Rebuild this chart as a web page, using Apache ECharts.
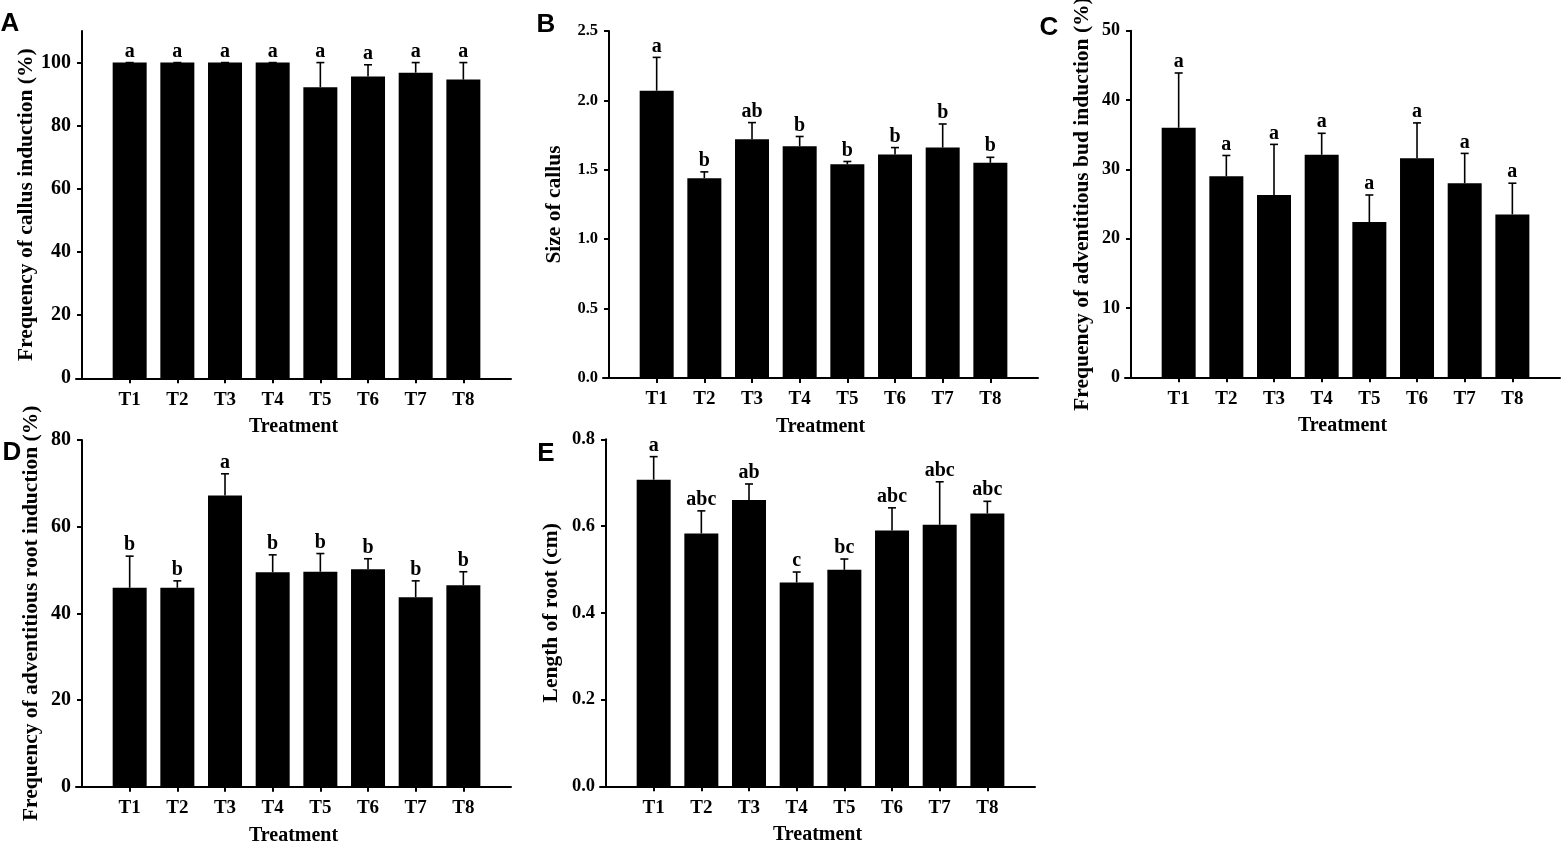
<!DOCTYPE html>
<html>
<head>
<meta charset="utf-8">
<script src="https://cdn.jsdelivr.net/npm/echarts@6/dist/echarts.min.js"></script>
<style>
html,body{margin:0;padding:0;background:#fff;}
#chart{width:1563px;height:841px;}
</style>
</head>
<body>
<div id="chart"></div>
<script>
// ---- data ----
var categories = ['T1','T2','T3','T4','T5','T6','T7','T8'];

var callusFreq = [100, 100, 100, 100, 92.2, 95.6, 96.8, 94.6];
var callusFreqErr = [0, 0, 0, 0, 7.8, 3.7, 3.2, 5.4];
var callusFreqLetters = ['a','a','a','a','a','a','a','a'];

var callusSize = [2.07, 1.44, 1.72, 1.67, 1.54, 1.61, 1.66, 1.55];
var callusSizeErr = [0.24, 0.045, 0.12, 0.07, 0.02, 0.05, 0.17, 0.04];
var callusSizeLetters = ['a','b','ab','b','b','b','b','b'];

var budFreq = [36.0, 29.0, 26.3, 32.1, 22.4, 31.6, 28.0, 23.5];
var budFreqErr = [7.9, 3.0, 7.3, 3.1, 3.9, 5.1, 4.3, 4.5];
var budFreqLetters = ['a','a','a','a','a','a','a','a'];

var rootFreq = [45.9, 45.9, 67.2, 49.5, 49.6, 50.2, 43.7, 46.5];
var rootFreqErr = [7.3, 1.6, 5.0, 4.0, 4.2, 2.4, 3.8, 3.1];
var rootFreqLetters = ['b','b','a','b','b','b','b','b'];

var rootLen = [0.707, 0.583, 0.660, 0.470, 0.499, 0.590, 0.603, 0.629];
var rootLenErr = [0.053, 0.052, 0.037, 0.024, 0.025, 0.052, 0.099, 0.028];
var rootLenLetters = ['a','abc','ab','c','bc','abc','abc','abc'];

var ticksA = [0, 20, 40, 60, 80, 100];
var ticksB = [0, 0.5, 1.0, 1.5, 2.0, 2.5];
var ticksC = [0, 10, 20, 30, 40, 50];
var ticksD = [0, 20, 40, 60, 80];
var ticksE = [0, 0.2, 0.4, 0.6, 0.8];

// ---- layout ----
var SERIF = '"Liberation Serif","Times New Roman",serif';
var EXT = 6;                 // x axis line sticks out left of the y axis (px)
var UNIT = 47.67;            // px per category step
var XMIN = -EXT / UNIT;
var panels = [
  {label:'A', lx:10, ly:24, axisX:82, top:31, height:347.3, max:110, ticks:ticksA, dec:0, tfs:20,
   name:'Frequency of callus induction (%)', gap:35, vals:callusFreq, errs:callusFreqErr, letters:callusFreqLetters},
  {label:'B', lx:546, ly:25, axisX:609, top:31, height:347, max:2.5, ticks:ticksB, dec:1, tfs:16.5,
   name:'Size of callus', gap:38, vals:callusSize, errs:callusSizeErr, letters:callusSizeLetters},
  {label:'C', lx:1049, ly:28, axisX:1131, top:30.7, height:346.6, max:50, ticks:ticksC, dec:0, tfs:18,
   name:'Frequency of adventitious bud induction (%)', gap:32, vals:budFreq, errs:budFreqErr, letters:budFreqLetters},
  {label:'D', lx:12, ly:453, axisX:82, top:440, height:346.7, max:80, ticks:ticksD, dec:0, tfs:20,
   name:'Frequency of adventitious root induction (%)', gap:34, vals:rootFreq, errs:rootFreqErr, letters:rootFreqLetters},
  {label:'E', lx:546, ly:454, axisX:606, top:439.3, height:347, max:0.8, ticks:ticksE, dec:1, tfs:18.5,
   name:'Length of root (cm)', gap:38, vals:rootLen, errs:rootLenErr, letters:rootLenLetters}
];
var xPos = categories.map(function(c, i){ return i + 1; });

var grids = [], xAxes = [], yAxes = [], series = [], graphics = [];
panels.forEach(function(p, k){
  grids.push({left:p.axisX - EXT, top:p.top, width:UNIT * 9 + EXT, height:p.height,
    containLabel:false, outerBoundsMode:'none'});
  xAxes.push({
    type:'value', gridIndex:k, min:XMIN, max:9,
    name:'Treatment', nameLocation:'middle', nameGap:39,
    nameTextStyle:{fontFamily:SERIF, fontWeight:'bold', fontSize:20, color:'#000'},
    axisLine:{show:true, onZero:false, lineStyle:{color:'#000', width:2}},
    axisTick:{show:true, length:5, lineStyle:{color:'#000', width:2}, customValues:xPos},
    axisLabel:{show:true, margin:12, fontFamily:SERIF, fontWeight:'bold', fontSize:19, color:'#000',
      customValues:xPos, formatter:function(v){ return categories[Math.round(v)-1] || ''; }},
    splitLine:{show:false}
  });
  yAxes.push({
    type:'value', gridIndex:k, min:0, max:p.max,
    name:p.name, nameLocation:'middle', nameGap:p.gap, nameRotate:90,
    nameTextStyle:{fontFamily:SERIF, fontWeight:'bold', fontSize:21.5, color:'#000'},
    axisLine:{show:true, onZero:true, lineStyle:{color:'#000', width:2}},
    axisTick:{show:true, length:5, lineStyle:{color:'#000', width:2}, customValues:p.ticks},
    axisLabel:{show:true, margin:5, fontFamily:SERIF, fontWeight:'bold', fontSize:p.tfs, color:'#000',
      customValues:p.ticks, formatter:(function(d){ return function(v){ return v.toFixed(d); }; })(p.dec)},
    splitLine:{show:false}
  });
  series.push({
    type:'bar', xAxisIndex:k, yAxisIndex:k, barWidth:34,
    itemStyle:{color:'#000'},
    data:p.vals.map(function(v, i){ return [xPos[i], v]; }),
    z:2
  });
  series.push({
    type:'custom', xAxisIndex:k, yAxisIndex:k, z:3,
    encode:{x:0, y:[1,2]},
    data:p.vals.map(function(v, i){ return [xPos[i], v, v + p.errs[i]]; }),
    renderItem:(function(letters){
      return function(params, api){
        var x = api.value(0), m = api.value(1), u = api.value(2);
        var p0 = api.coord([x, m]), p1 = api.coord([x, u]);
        return {type:'group', children:[
          {type:'line', shape:{x1:p0[0], y1:p0[1], x2:p1[0], y2:p1[1]}, style:{stroke:'#000', lineWidth:1.6}},
          {type:'line', shape:{x1:p1[0]-4, y1:p1[1], x2:p1[0]+4, y2:p1[1]}, style:{stroke:'#000', lineWidth:1.6}},
          {type:'text', style:{text:letters[params.dataIndex], x:p1[0], y:p1[1]-1, align:'center', verticalAlign:'bottom',
            font:'bold 20px ' + SERIF, fill:'#000'}}
        ]};
      };
    })(p.letters)
  });
  graphics.push({type:'text', x:p.lx, y:p.ly, style:{text:p.label, font:'bold 26px "Liberation Sans",Arial,sans-serif',
    fill:'#000', align:'center', verticalAlign:'middle'}});
});

var chart = echarts.init(document.getElementById('chart'));
chart.setOption({
  animation:false,
  backgroundColor:'#fff',
  grid:grids, xAxis:xAxes, yAxis:yAxes, series:series, graphic:graphics
});
</script>
</body>
</html>
